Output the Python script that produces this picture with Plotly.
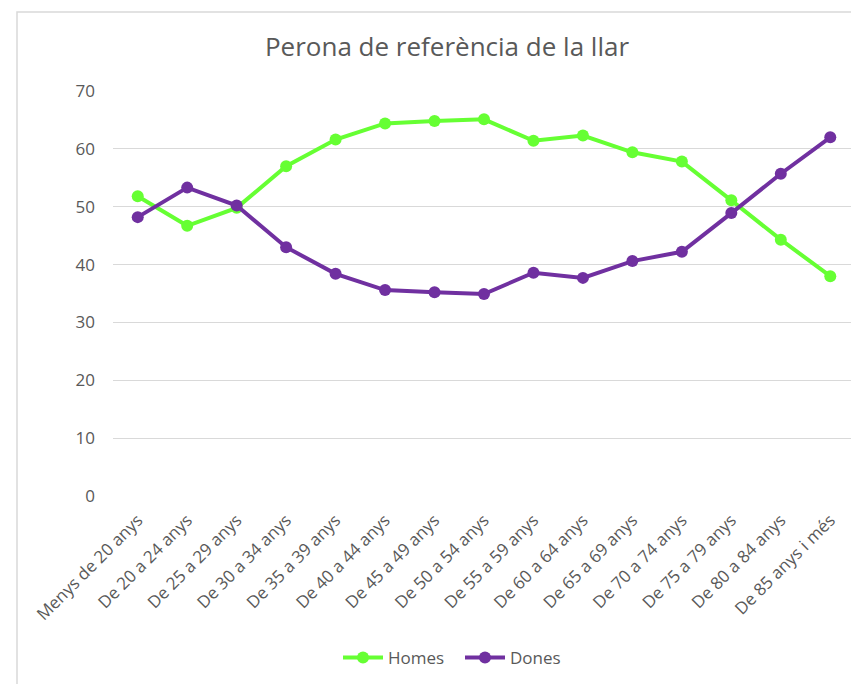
import plotly.graph_objects as go

categories = ["Menys de 20 anys", "De 20 a 24 anys", "De 25 a 29 anys", "De 30 a 34 anys",
              "De 35 a 39 anys", "De 40 a 44 anys", "De 45 a 49 anys", "De 50 a 54 anys",
              "De 55 a 59 anys", "De 60 a 64 anys", "De 65 a 69 anys", "De 70 a 74 anys",
              "De 75 a 79 anys", "De 80 a 84 anys", "De 85 anys i més"]
homes = [51.8, 46.7, 49.8, 57.0, 61.6, 64.4, 64.8, 65.1, 61.4, 62.3, 59.4, 57.8, 51.1, 44.3, 38.0]
dones = [48.2, 53.3, 50.2, 43.0, 38.4, 35.6, 35.2, 34.9, 38.6, 37.7, 40.6, 42.2, 48.9, 55.7, 62.0]
yticks = [0, 10, 20, 30, 40, 50, 60, 70]

OFF = 8  # page body margin
W, H = 859 - OFF, 684 - OFF
L, R, T, B = 113 - OFF, 4, 91 - OFF, 188
pw, ph = W - L - R, H - T - B

FONT = "'Open Sans', 'Noto Sans', sans-serif"

fig = go.Figure()
fig.add_trace(go.Scatter(x=categories, y=homes, name="Homes", mode="lines+markers",
                         line=dict(color="#66FF33", width=4),
                         marker=dict(size=12, color="#66FF33")))
fig.add_trace(go.Scatter(x=categories, y=dones, name="Dones", mode="lines+markers",
                         line=dict(color="#7030A0", width=4),
                         marker=dict(size=12, color="#7030A0")))

fig.update_layout(
    width=W, height=H,
    margin=dict(l=L, r=R, t=T, b=B),
    paper_bgcolor="white", plot_bgcolor="white",
    font=dict(family=FONT, color="#595959"),
    title=dict(text="Perona de referència de la llar", x=(447 - OFF) / W, xref="container",
               xanchor="center", y=1 - (47 - OFF) / H, yref="container", yanchor="middle",
               font=dict(size=26, color="#595959", family=FONT)),
    xaxis=dict(type="category", range=[-0.5, len(categories) - 0.5], tickangle=-45,
               showgrid=False, zeroline=False, showline=False, ticks="",
               tickfont=dict(size=17, color="#595959"), ticklabelstandoff=10),
    yaxis=dict(range=[0, 70], tickvals=yticks, showgrid=True, gridcolor="#D9D9D9",
               gridwidth=1, zeroline=False, showline=False, ticks="",
               tickfont=dict(size=17, color="#595959"), ticklabelstandoff=17),
    legend=dict(orientation="h", x=(460 - 113) / pw, xanchor="center",
                y=(91 + ph - 658) / ph, yanchor="middle",
                font=dict(size=17, color="#595959"), itemwidth=40,
                entrywidth=67, entrywidthmode="pixels"),
    showlegend=True,
)

fig.add_shape(type="rect", xref="paper", yref="paper",
              x0=(17 - 113) / pw, x1=(W + 40 - L) / pw,
              y0=(T + ph - (H + 20)) / ph, y1=(91 + ph - 12) / ph,
              line=dict(color="#D9D9D9", width=1.5), fillcolor="rgba(0,0,0,0)", layer="below")

fig.write_html("out.html")
